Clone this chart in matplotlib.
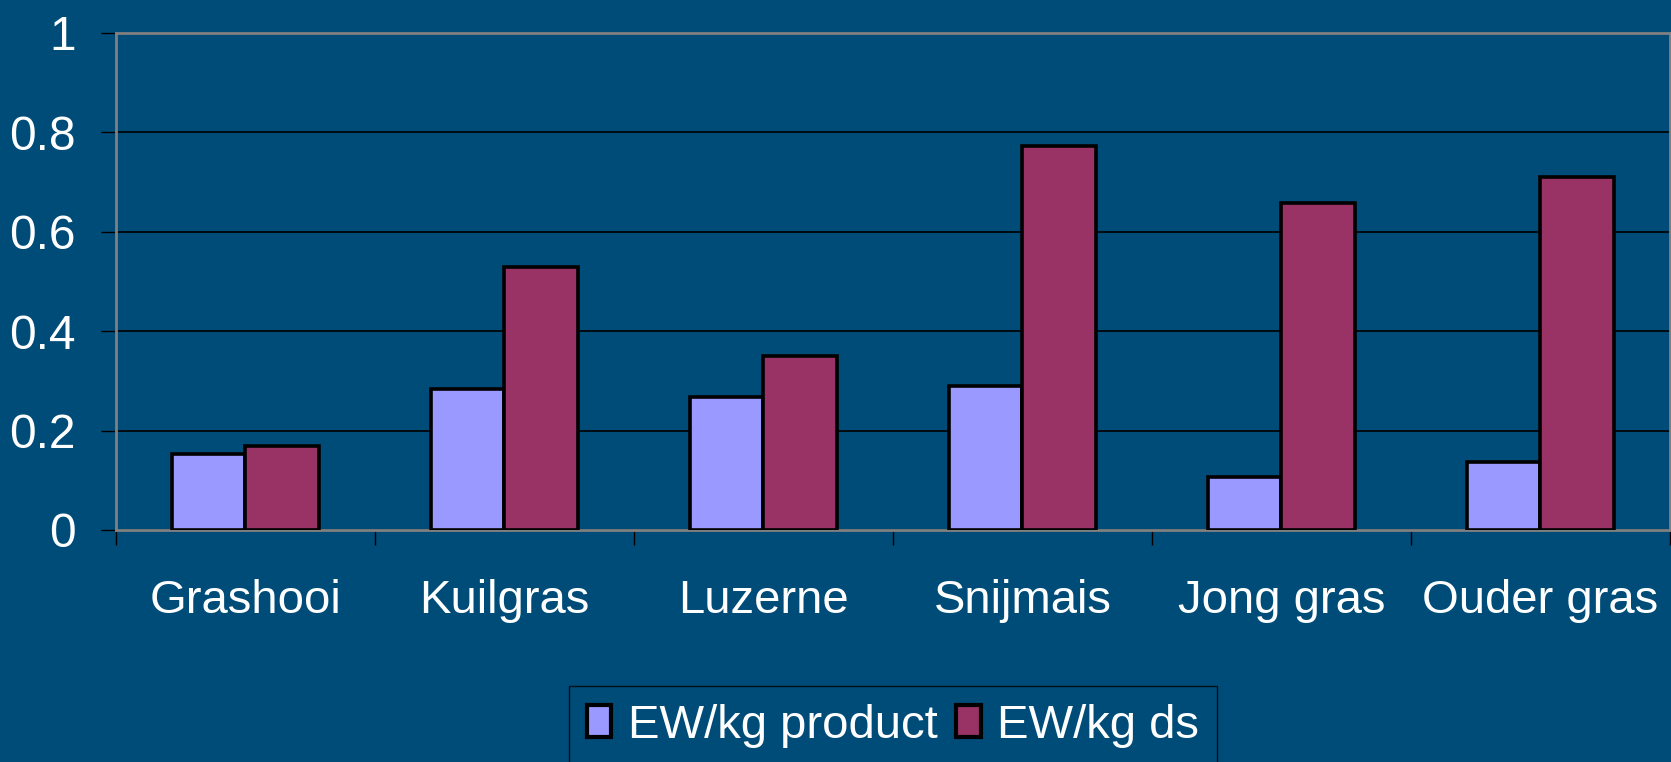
import matplotlib.pyplot as plt
import numpy as np

# data
categories = ['Grashooi', 'Kuilgras', 'Luzerne', 'Snijmais', 'Jong gras', 'Ouder gras']
ew_product = [0.153, 0.283, 0.267, 0.290, 0.107, 0.137]
ew_ds = [0.168, 0.529, 0.351, 0.773, 0.657, 0.711]
series_names = ['EW/kg product', 'EW/kg ds']

bg = '#004C78'
plt.rcParams['font.family'] = ['Liberation Sans', 'DejaVu Sans']

fig = plt.figure(figsize=(16.71, 7.62), dpi=100, facecolor=bg)
ax = fig.add_axes([0.0694, 0.3045, 0.93, 0.6522])
ax.set_facecolor(bg)

x = np.arange(len(categories)) + 0.5
w = 0.285
ax.bar(x - w / 2, ew_product, w, color='#9999FF', edgecolor='black',
       linewidth=2.6, label=series_names[0], zorder=3)
ax.bar(x + w / 2, ew_ds, w, color='#993366', edgecolor='black',
       linewidth=2.6, label=series_names[1], zorder=3)

ax.set_xlim(0, len(categories))
ax.set_ylim(0, 1)

# y axis
ax.set_yticks([0, 0.2, 0.4, 0.6, 0.8, 1])
ax.set_yticklabels(['0', '0.2', '0.4', '0.6', '0.8', '1'])
ax.yaxis.grid(True, color='black', linewidth=1.2, zorder=0)
ax.tick_params(axis='y', length=11, width=1, color='black', pad=18,
               labelsize=34.5, labelcolor='white')

# x axis: ticks between groups, labels at centers
ax.set_xticks(np.arange(len(categories) + 1))
ax.set_xticklabels([])
ax.tick_params(axis='x', which='major', length=11, width=1, color='black')
ax.set_xticks(x, minor=True)
ax.set_xticklabels(categories, minor=True)
ax.tick_params(axis='x', which='minor', length=0, pad=35,
               labelsize=34, labelcolor='white')

for s in ax.spines.values():
    s.set_color('#808080')
    s.set_linewidth(2)

leg = fig.legend(loc='upper left', bbox_to_anchor=(0.3405, 0.1),
                 borderaxespad=0, ncol=2, fontsize=34, frameon=True,
                 fancybox=False, facecolor=bg, edgecolor='black',
                 labelcolor='white', handlelength=0.52, handleheight=0.66,
                 handletextpad=0.34, columnspacing=0.4, borderpad=0.38)
leg.get_frame().set_linewidth(1)
for h in leg.legend_handles:
    h.set_linewidth(3)

fig.savefig('out.png', dpi=100, facecolor=bg)
